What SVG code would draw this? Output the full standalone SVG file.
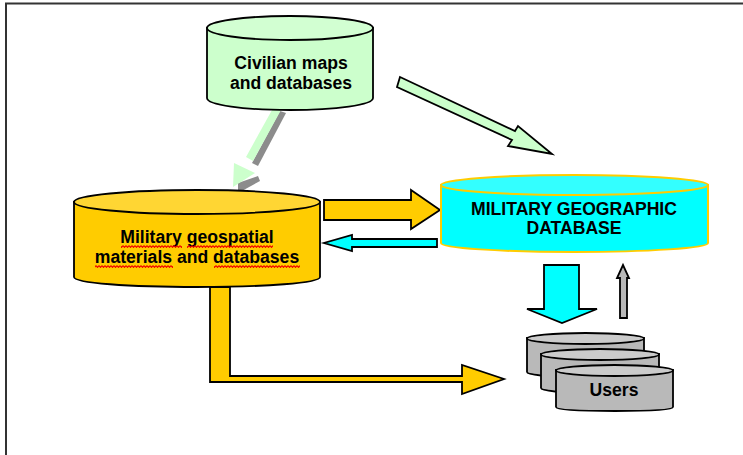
<svg xmlns="http://www.w3.org/2000/svg" width="743" height="455" viewBox="0 0 743 455">
<style>
text{font-family:"Liberation Sans",Arial,sans-serif;font-weight:bold;font-size:17.6px;fill:#000;text-anchor:middle}
.o{stroke:#000;stroke-width:1.800;stroke-linejoin:miter}
.g{fill:#ccffcc}.y{fill:#ffcc00}.c{fill:#00ffff}.s{fill:#b9b9b9}
.cap-g{fill:#d2ffd2}.cap-y{fill:#ffd633}.cap-c{fill:#33ffff}.cap-s{fill:#cbcbcb}
.sq{fill:url(#wave)}
</style>
<defs>
<pattern id="wave" width="3" height="20" patternUnits="userSpaceOnUse" x="0" y="245">
<path d="M0 .6L1.500 2.400L3 .6" fill="none" stroke="#f00000" stroke-width="1.100"/>
</pattern>
</defs>
<path id="frame" d="M6 455V3.500H743" fill="none" stroke="#333" stroke-width="2"/>
<g id="connectors">
<path class="o g" d="M400 77L515 131L518 126L552 154L508 146L512 140L397 87Z"/>
<path d="M280 111L286 113L258 166L252 163Z" fill="#8c8c8c"/>
<path d="M272 110L281 110L253 161L246 157Z" fill="#ccffcc"/>
<path d="M258 176L260 181L240 192H238V183Z" fill="#8c8c8c"/>
<path d="M234 163L255 173L233 187Z" fill="#ccffcc"/>
<path class="o y" d="M324 200H411V190L440 210L411 229V220H324Z"/>
<path class="o c" d="M437 239H352V235L324 243L352 251V247H437Z"/>
<path class="o c" d="M544 265H579V309H597L562 323L527 309H544Z"/>
<path class="o s" d="M620 318H627V278H629L623 265L617 278H620Z"/>
<path class="o y" d="M210 287H230V376H462V365L504 379L462 394V382H210Z"/>
</g>
<g id="civilian">
<path class="o g" d="M207 28V98C207 105 244 110 290 110S373 105 373 98V28Z"/>
<ellipse class="o cap-g" cx="290" cy="28" rx="83" ry="12"/>
<text x="291" y="69">Civilian maps</text>
<text x="291" y="89">and databases</text>
</g>
<g id="military">
<path class="o y" d="M74 202V277C74 283 129 287 197 287S320 283 320 277V202Z"/>
<ellipse class="o cap-y" cx="197" cy="202" rx="123" ry="12"/>
<text x="197" y="243">Military geospatial</text>
<text x="197" y="263">materials and databases</text>
<rect class="sq" x="121" y="245" width="61" height="3"/>
<rect class="sq" x="187" y="245" width="86" height="3"/>
<rect class="sq" x="95" y="265" width="78" height="3"/>
<rect class="sq" x="214" y="265" width="86" height="3"/>
</g>
<g id="geographic">
<path d="M441 185V243C441 248 501 252 574.500 252S708 248 708 243V185Z" class="c" stroke="#ffcc00" stroke-width="2"/>
<ellipse class="cap-c" cx="574.500" cy="185" rx="133.500" ry="10" stroke="#ffcc00" stroke-width="2"/>
<text x="574" y="215">MILITARY GEOGRAPHIC</text>
<text x="574" y="234">DATABASE</text>
</g>
<g id="users">
<g id="users-back">
<path class="o s" d="M527 338V372C527 375 553 377 585.500 377S644 375 644 372V338Z"/>
<ellipse class="o cap-s" cx="585.500" cy="338.500" rx="58.500" ry="5.500"/>
</g>
<g id="users-middle">
<path class="o s" d="M541 354V388C541 391 567 393 600 393S659 391 659 388V354Z"/>
<ellipse class="o cap-s" cx="600" cy="354.500" rx="59" ry="5.500"/>
</g>
<g id="users-front">
<path class="o s" d="M556 370V407C556 410 582 411 615 411S673 410 673 407V370Z"/>
<ellipse class="o cap-s" cx="614.500" cy="370.500" rx="58.500" ry="5.500"/>
<text x="614" y="396">Users</text>
</g>
</g>
</svg>
